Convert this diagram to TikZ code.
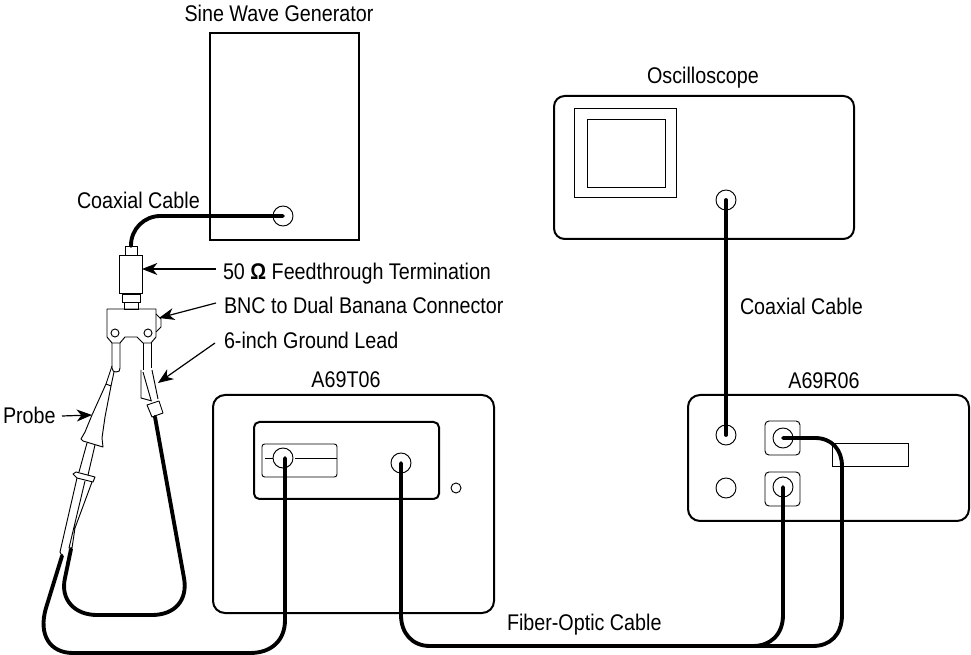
\documentclass[tikz,border=0pt]{standalone}
\usepackage{fontspec}
\setmainfont[FakeStretch=0.87]{Liberation Sans}
\usetikzlibrary{arrows.meta}
\tikzset{
  x=.75pt,y=-.75pt,
  thinln/.style={line width=.7pt,line join=round},
  panel/.style 2 args={draw,line width=1.5pt,inner sep=0,outer sep=0,anchor=north west,rounded corners=#2,minimum width=0,minimum height=0,#1},
  sized/.style 2 args={minimum width=#1*.75pt,minimum height=#2*.75pt},
  sub/.style 2 args={draw,line width=.7pt,inner sep=0,outer sep=0,anchor=north west,rounded corners=#2,#1},
  jack/.style={draw,circle,line width=.7pt,inner sep=0,outer sep=0,minimum size=#1*1.5pt},
  jack/.default=10,
  cable/.style={line width=2.9pt,line cap=round,line join=round},
  lead/.style={line width=.9pt,-{Stealth[length=11.5pt,width=9pt,inset=3.5pt]},shorten >=0pt},
  lab/.style={font=\fontsize{17pt}{19pt}\selectfont,inner sep=0,outer sep=0},
}
\begin{document}
\begin{tikzpicture}
\useasboundingbox (0,0) rectangle (971,655);
% labels
\node[lab] (tsine) at (279,13) {Sine Wave Generator};
\node[lab] (tosc) at (703,78) {Oscilloscope};
\node[lab,anchor=west] (tcoax1) at (77,200) {Coaxial Cable};
\node[lab,anchor=west] (tcoax2) at (740,306) {Coaxial Cable};
\node[lab,anchor=west] (tterm) at (223,274) {50 {\bfseries Ω} Feedthrough Termination};
\node[lab,anchor=west] (tbnc) at (224,305) {BNC to Dual Banana Connector};
\node[lab,anchor=west] (tgnd) at (224,340) {6-inch Ground Lead};
\node[lab,anchor=west] (tprobe) at (3,415) {Probe};
\node[lab] (tt) at (346,380) {A69T06};
\node[lab] (tr) at (824,381) {A69R06};
\node[lab,anchor=west] (tfib) at (507,625) {Fiber-Optic Cable};
% boxes
\node[panel={}{0pt},sized={149}{207}] (gen) at (210,33) {};
\node[panel={}{8pt},sized={300}{143}] (osc) at (554,96) {};
\node[panel={}{9pt},sized={281}{218}] (tx) at (213,395) {};
\node[panel={}{4pt},sized={185}{77}] (txin) at (254,422) {};
\node[panel={}{9pt},sized={281}{126}] (rx) at (688,395) {};
% oscilloscope details
\node[sub={}{0pt},sized={102}{89}] (scr1) at (574,108) {};
\node[sub={}{0pt},sized={78}{68}] (scr2) at (587,119) {};
% A69T06 details
\node[sub={}{2pt},sized={75}{33}] (slot) at (262,444) {};
\node[jack] (jt1) at (283,458) {};
\node[jack] (jt2) at (401,463) {};
\node[jack=5] (jt3) at (456,488) {};
\coordinate (sl1) at (265,458);
\coordinate (sl2) at (273,458);
\coordinate (sl3) at (295,458);
\coordinate (sl4) at (337,458);
\draw[thinln] (sl1) -- (sl2) (sl3) -- (sl4);
% A69R06 details
\node[sub={}{3pt},sized={35}{34}] (sq1) at (765,421) {};
\node[sub={}{3pt},sized={35}{34}] (sq2) at (765,472) {};
\node[sub={}{0pt},sized={76}{23}] (rect) at (832,443) {};
\node[jack] (jr1) at (726,435) {};
\node[jack] (jr2) at (726,488) {};
\node[jack] (jr3) at (783,438) {};
\node[jack] (jr4) at (783,487) {};
\node[jack] (jo) at (726,200) {};
\node[jack] (jg) at (283,216) {};
% BNC feedthrough
\node[sub={}{0pt},sized={12}{9},fill=white] (f1) at (125,246) {};
\node[sub={}{0pt},sized={23}{38},fill=white] (f2) at (119,255) {};
\node[sub={}{0pt},sized={18}{8},fill=white] (f3) at (122,294) {};
\node[sub={}{0pt},sized={14}{7},fill=white] (f4) at (124,302) {};
% dual banana
\draw[thinln] (107,309) -- (156,309) -- (156,337) -- (151,343) -- (143,343) -- (137,337) -- (125,337) -- (120,343) -- (112,343) -- (107,337) -- cycle;
\draw[thinln] (156,314) -- (161,319) -- (161,327) -- (156,332);
\node[jack=4] (h1) at (115,333) {};
\node[jack=4] (h2) at (148,333) {};
\draw[thinln] (112,343) -- (112,368) .. controls (112,371) and (114,372) .. (116,372) .. controls (119,372) and (120,371) .. (120,368) -- (120,343);
\draw[thinln] (143,343) -- (143,370) (151,343) -- (151,368);
% probe
\draw[thinln] (112,366) -- (106,384) -- (111,386) -- (114,372);
\draw[thinln] (106,384) -- (92,415) -- (85,432) -- (81,439) -- (83,441) -- (103,447) -- (102,438) -- (105,417) -- (111,386);
\draw[thinln] (87,443) -- (79,472) (95,445) -- (88,475);
\draw[thinln] (73,474) -- (76,472) -- (95,477) -- (93,482) -- (77,478) -- cycle;
\draw[thinln] (77,478) -- (60,552) -- (62,556) (85,481) -- (69,548) -- (72,548) -- (75,528) -- (92,482);
% ground lead
\draw[thinln] (143,372) -- (151,400) (152,370) -- (158,399);
\draw[thinln] (141,370) -- (141,398) -- (152,401);
\draw[thinln,fill=white] (147,405) -- (159,401) -- (163,413) -- (152,417) -- cycle;
% free ends of cables
\coordinate (p1) at (62,556);
\coordinate (p2) at (71,549);
\coordinate (g1) at (155,417);
% cables
\draw[cable,rounded corners=22pt] (jg.center) -| (f1.north);
\draw[cable] (jo.center) -- (jr1.center);
\draw[cable] (p1) -- (46,608) .. controls (38,635) and (50,653) .. (73,653) -- (250,653) .. controls (272,653) and (285,640) .. (285,620) -- (285,458);
\draw[cable] (p2) -- (65,578) .. controls (60,600) and (75,615) .. (97,615) -- (152,615) .. controls (175,615) and (188,600) .. (184,578) -- (g1);
\draw[cable] (jr3.center) -- (815,438) .. controls (832,438) and (842,450) .. (842,466) -- (842,615) .. controls (842,635) and (830,646) .. (813,646) -- (430,646) .. controls (412,646) and (401,633) .. (401,615) -- (jt2.center);
\draw[cable] (jr4.center) -- (783,615) .. controls (783,635) and (770,646) .. (753,646);
% pointers
\coordinate (a1) at (216,269);
\coordinate (a2) at (216,303);
\coordinate (a3) at (215,343);
\coordinate (a4) at (62,416);
\coordinate (a5) at (159,318);
\coordinate (a6) at (158,383);
\coordinate (a7) at (92,415);
\draw[lead] (a1) -- (f2.east |- a1);
\draw[lead] (a2) -- (a5);
\draw[lead] (a3) -- (a6);
\draw[lead] (a4) -- (a7);
\end{tikzpicture}
\end{document}
